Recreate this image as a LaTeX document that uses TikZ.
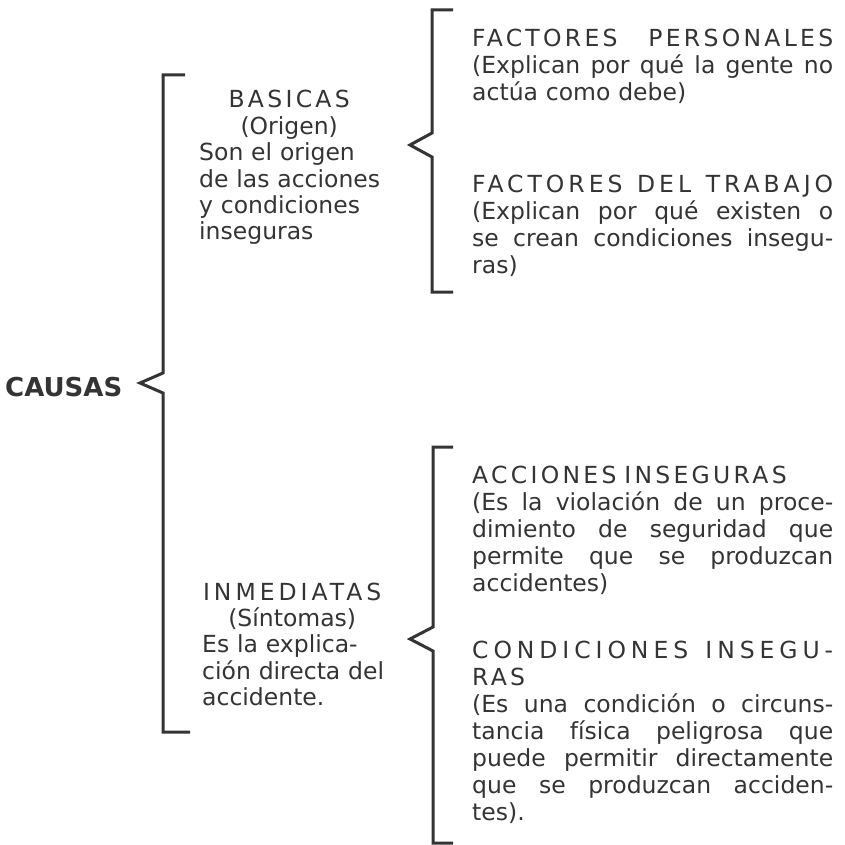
\documentclass[tikz,border=0pt]{standalone}
\usepackage{fontspec}
\setmainfont{DejaVu Sans}
\newfontfamily\headfont[LetterSpace=14]{DejaVu Sans}
\newfontfamily\trackfont[LetterSpace=17]{DejaVu Sans}
\newfontfamily\widetrackfont[LetterSpace=21]{DejaVu Sans}
\definecolor{ink}{RGB}{52,52,52}
\newlength{\rightw}\setlength{\rightw}{361pt}
\newlength{\leftw}\setlength{\leftw}{180pt}
\newcommand{\jl}[1]{\makebox[\rightw][s]{\spaceskip=\fontdimen2\font plus 1fil\relax #1}}
\newcommand{\cl}[1]{\makebox[\leftw][c]{#1}}

\begin{document}
\begin{tikzpicture}[x=1pt,y=-1pt]
\tikzset{
  causenode/.style={anchor=base west,inner sep=0pt,text=ink,font=\fontsize{26}{30}\selectfont\bfseries},
  leftblock/.style={anchor=base west,inner sep=0pt,text=ink,text width=230pt,align=left,font=\fontsize{23.5}{26.4}\selectfont},
  rightblock/.style={anchor=base west,inner sep=0pt,text=ink,text width=\rightw,align=left,font=\fontsize{23.5}{27}\selectfont},
  bracket/.style={draw=ink,line width=3pt}
}
\useasboundingbox[fill=white] (0,0) rectangle (844,845);
\node[causenode] (causas) at (5,396) {CAUSAS};
\node[leftblock] (basicas) at (199,108) {\cl{\headfont BASICAS}\\ \cl{(Origen)}\\ Son el origen\\ de las acciones\\ y condiciones\\ inseguras};
\node[leftblock] (inmediatas) at (202,600) {\cl{\trackfont INMEDIATAS}\\ \cl{(Síntomas)}\\ Es la explica-\\ ción directa del\\ accidente.};
\node[rightblock] (personales) at (472,47) {\jl{\headfont FACTORES PERSONALES}\\ \jl{(Explican por qué la gente no}\\ actúa como debe)};
\node[rightblock] (trabajo) at (472,193) {\jl{\trackfont FACTORES DEL TRABAJO}\\ \jl{(Explican por qué existen o}\\ \jl{se crean condiciones insegu-}\\ ras)};
\node[rightblock] (acciones) at (472,483) {{\headfont ACCIONES INSEGURAS}\\ \jl{(Es la violación de un proce-}\\ \jl{dimiento de seguridad que}\\ \jl{permite que se produzcan}\\ accidentes)};
\node[rightblock] (condiciones) at (472,658) {\jl{\widetrackfont CONDICIONES INSEGU-}\\ {\headfont RAS}\\ \jl{(Es una condición o circuns-}\\ \jl{tancia física peligrosa que}\\ \jl{puede permitir directamente}\\ \jl{que se produzcan acciden-}\\ tes).};
\draw[bracket] (185,75) -- (163,75) -- (163,373) -- (140,383) -- (163,393) -- (163,732) -- (190,732);
\draw[bracket] (453,10) -- (432,10) -- (432,133) -- (410,145) -- (432,157) -- (432,292) -- (453,292);
\draw[bracket] (453,447) -- (433,447) -- (433,627) -- (410,639) -- (433,651) -- (433,843) -- (453,843);
\end{tikzpicture}
\end{document}
